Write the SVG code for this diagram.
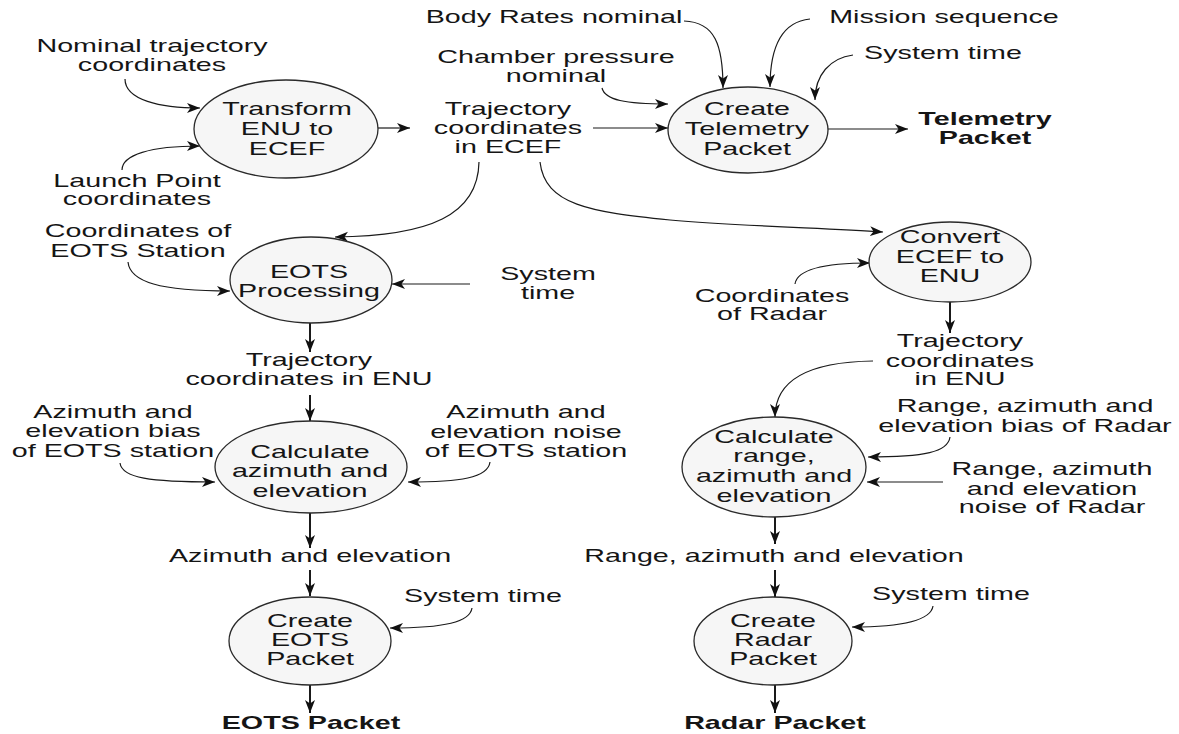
<svg xmlns="http://www.w3.org/2000/svg" width="1179" height="734" viewBox="0 0 1179 734">
<style>
text{font-family:"Liberation Sans",Arial,sans-serif;font-size:17.5px;fill:#151515;text-anchor:middle}
.b{font-weight:bold}
.node ellipse{fill:#f6f6f6;stroke:#2a2a2a;stroke-width:1.3}
.c path{fill:none;stroke:#1a1a1a;stroke-width:1.2;marker-end:url(#ah)}
.c path.v{stroke-width:2}
</style>
<defs>
<marker id="ah" markerUnits="userSpaceOnUse" markerWidth="14" markerHeight="11" refX="13" refY="5" orient="auto">
<path d="M0,0 L13,5 L0,10 L3.5,5 Z" fill="#111"/>
</marker>
</defs>
<rect width="1179" height="734" fill="#fff"/>
<g class="c" id="connectors">
<path d="M125,79 C125,100 160,108 200,108"/>
<path d="M122,170 C122,155 150,146 200,146"/>
<path d="M378,128 L410,128"/>
<path d="M593,128 L668,128"/>
<path d="M828,129 L908,129"/>
<path d="M684,21 C715,22 723,45 723,88"/>
<path d="M810,19 C780,22 770,50 770,87"/>
<path d="M853,55 C830,58 815,75 815,100"/>
<path d="M602,88 C605,100 625,104 668,104"/>
<path d="M479,162 C478,215 430,236 335,237"/>
<path d="M540,162 C545,205 590,212 670,220 C740,226 820,228 883,232"/>
<path d="M128,262 C130,282 160,291 230,291"/>
<path d="M470,284 L392,284"/>
<path d="M795,284 C797,270 820,263 870,263"/>
<path d="M873,361 C800,362 775,385 775,417"/>
<path d="M950,437 C948,452 925,457 868,457"/>
<path d="M943,482 L867,482"/>
<path d="M120,463 C122,478 150,482 215,482"/>
<path d="M490,462 C488,478 460,482 408,482"/>
<path d="M472,608 C470,622 445,628 390,628"/>
<path d="M933,606 C931,620 905,627 852,627"/>
<path class="v" d="M310,323 L310,352"/>
<path class="v" d="M310,395 L310,421"/>
<path class="v" d="M310,513 L310,548"/>
<path class="v" d="M310,570 L310,596"/>
<path class="v" d="M310,685 L310,713"/>
<path class="v" d="M950,302 L950,333"/>
<path class="v" d="M775,517 L775,544"/>
<path class="v" d="M775,570 L775,597"/>
<path class="v" d="M775,685 L775,713"/>
</g>
<g class="node" id="transform">
<ellipse cx="286" cy="129" rx="92" ry="49"/>
<text transform="translate(287 0) scale(1.64 1)"><tspan x="0" y="115">Transform</tspan><tspan x="0" y="135">ENU to</tspan><tspan x="0" y="155">ECEF</tspan></text>
</g>
<g class="node" id="telemetry">
<ellipse cx="748" cy="130" rx="80" ry="43"/>
<text transform="translate(747 0) scale(1.64 1)"><tspan x="0" y="115">Create</tspan><tspan x="0" y="135">Telemetry</tspan><tspan x="0" y="155">Packet</tspan></text>
</g>
<g class="node" id="eots-processing">
<ellipse cx="311" cy="280" rx="81" ry="43"/>
<text transform="translate(309 0) scale(1.64 1)"><tspan x="0" y="278">EOTS</tspan><tspan x="0" y="297">Processing</tspan></text>
</g>
<g class="node" id="convert">
<ellipse cx="950" cy="262" rx="81" ry="40"/>
<text transform="translate(950 0) scale(1.64 1)"><tspan x="0" y="243">Convert</tspan><tspan x="0" y="263">ECEF to</tspan><tspan x="0" y="282">ENU</tspan></text>
</g>
<g class="node" id="calc-az">
<ellipse cx="311" cy="467" rx="96" ry="46"/>
<text transform="translate(310 0) scale(1.64 1)"><tspan x="0" y="458">Calculate</tspan><tspan x="0" y="477">azimuth and</tspan><tspan x="0" y="497">elevation</tspan></text>
</g>
<g class="node" id="calc-range">
<ellipse cx="774" cy="467" rx="92" ry="50"/>
<text transform="translate(774 0) scale(1.64 1)"><tspan x="0" y="443">Calculate</tspan><tspan x="0" y="462">range,</tspan><tspan x="0" y="482">azimuth and</tspan><tspan x="0" y="502">elevation</tspan></text>
</g>
<g class="node" id="create-eots">
<ellipse cx="310" cy="641" rx="81" ry="44"/>
<text transform="translate(310 0) scale(1.64 1)"><tspan x="0" y="627">Create</tspan><tspan x="0" y="646">EOTS</tspan><tspan x="0" y="665">Packet</tspan></text>
</g>
<g class="node" id="create-radar">
<ellipse cx="773" cy="641" rx="79" ry="44"/>
<text transform="translate(773 0) scale(1.64 1)"><tspan x="0" y="627">Create</tspan><tspan x="0" y="646">Radar</tspan><tspan x="0" y="665">Packet</tspan></text>
</g>
<g id="labels">
<text transform="translate(152 0) scale(1.64 1)"><tspan x="0" y="52">Nominal trajectory</tspan><tspan x="0" y="71">coordinates</tspan></text>
<text transform="translate(137 0) scale(1.64 1)"><tspan x="0" y="187">Launch Point</tspan><tspan x="0" y="205">coordinates</tspan></text>
<text transform="translate(508 0) scale(1.64 1)"><tspan x="0" y="115">Trajectory</tspan><tspan x="0" y="134">coordinates</tspan><tspan x="0" y="153">in ECEF</tspan></text>
<text transform="translate(554 0) scale(1.64 1)"><tspan x="0" y="23">Body Rates nominal</tspan></text>
<text transform="translate(556 0) scale(1.64 1)"><tspan x="0" y="63">Chamber pressure</tspan><tspan x="0" y="82">nominal</tspan></text>
<text transform="translate(944 0) scale(1.64 1)"><tspan x="0" y="23">Mission sequence</tspan></text>
<text transform="translate(943 0) scale(1.64 1)"><tspan x="0" y="59">System time</tspan></text>
<text class="b" transform="translate(985 0) scale(1.64 1)"><tspan x="0" y="125">Telemetry</tspan><tspan x="0" y="144">Packet</tspan></text>
<text transform="translate(138 0) scale(1.64 1)"><tspan x="0" y="237">Coordinates of</tspan><tspan x="0" y="257">EOTS Station</tspan></text>
<text transform="translate(548 0) scale(1.64 1)"><tspan x="0" y="280">System</tspan><tspan x="0" y="299">time</tspan></text>
<text transform="translate(309 0) scale(1.64 1)"><tspan x="0" y="366">Trajectory</tspan><tspan x="0" y="385">coordinates in ENU</tspan></text>
<text transform="translate(113 0) scale(1.64 1)"><tspan x="0" y="418">Azimuth and</tspan><tspan x="0" y="437">elevation bias</tspan><tspan x="0" y="457">of EOTS station</tspan></text>
<text transform="translate(526 0) scale(1.64 1)"><tspan x="0" y="418">Azimuth and</tspan><tspan x="0" y="438">elevation noise</tspan><tspan x="0" y="457">of EOTS station</tspan></text>
<text transform="translate(310 0) scale(1.64 1)"><tspan x="0" y="562">Azimuth and elevation</tspan></text>
<text transform="translate(483 0) scale(1.64 1)"><tspan x="0" y="602">System time</tspan></text>
<text class="b" transform="translate(311 0) scale(1.64 1)"><tspan x="0" y="729">EOTS Packet</tspan></text>
<text transform="translate(772 0) scale(1.64 1)"><tspan x="0" y="302">Coordinates</tspan><tspan x="0" y="320">of Radar</tspan></text>
<text transform="translate(960 0) scale(1.64 1)"><tspan x="0" y="347">Trajectory</tspan><tspan x="0" y="367">coordinates</tspan><tspan x="0" y="385">in ENU</tspan></text>
<text transform="translate(1025 0) scale(1.64 1)"><tspan x="0" y="412">Range, azimuth and</tspan><tspan x="0" y="432">elevation bias of Radar</tspan></text>
<text transform="translate(1052 0) scale(1.64 1)"><tspan x="0" y="475">Range, azimuth</tspan><tspan x="0" y="495">and elevation</tspan><tspan x="0" y="513">noise of Radar</tspan></text>
<text transform="translate(774 0) scale(1.64 1)"><tspan x="0" y="562">Range, azimuth and elevation</tspan></text>
<text transform="translate(951 0) scale(1.64 1)"><tspan x="0" y="600">System time</tspan></text>
<text class="b" transform="translate(775 0) scale(1.64 1)"><tspan x="0" y="729">Radar Packet</tspan></text>
</g>
</svg>
